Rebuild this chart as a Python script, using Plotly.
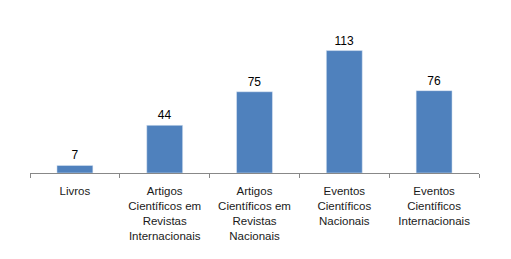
import plotly.graph_objects as go

categories = ["Livros",
              "Artigos<br>Científicos em<br>Revistas<br>Internacionais",
              "Artigos<br>Científicos em<br>Revistas<br>Nacionais",
              "Eventos<br>Científicos<br>Nacionais",
              "Eventos<br>Científicos<br>Internacionais"]
values = [7, 44, 75, 113, 76]

fig = go.Figure(go.Bar(
    x=categories, y=values,
    marker_color="#4F81BD", width=0.4,
    text=[str(v) for v in values], textposition="outside",
    textfont=dict(family="Liberation Sans", size=12, color="#000000"),
    cliponaxis=False,
))
fig.update_layout(
    width=511, height=259,
    margin=dict(l=22, r=40, t=35, b=94),
    paper_bgcolor="white", plot_bgcolor="white",
    showlegend=False,
    font=dict(family="Liberation Sans", size=11.5, color="#1a1a1a"),
)
fig.update_xaxes(showline=True, linecolor="#888888", linewidth=1,
                 ticks="outside", tickson="boundaries", ticklen=4, tickcolor="#888888",
                 tickfont=dict(size=11.5), ticklabelstandoff=7, showgrid=False)
fig.update_yaxes(range=[0, 120], visible=False, showgrid=False)
fig.write_html("out.html")
